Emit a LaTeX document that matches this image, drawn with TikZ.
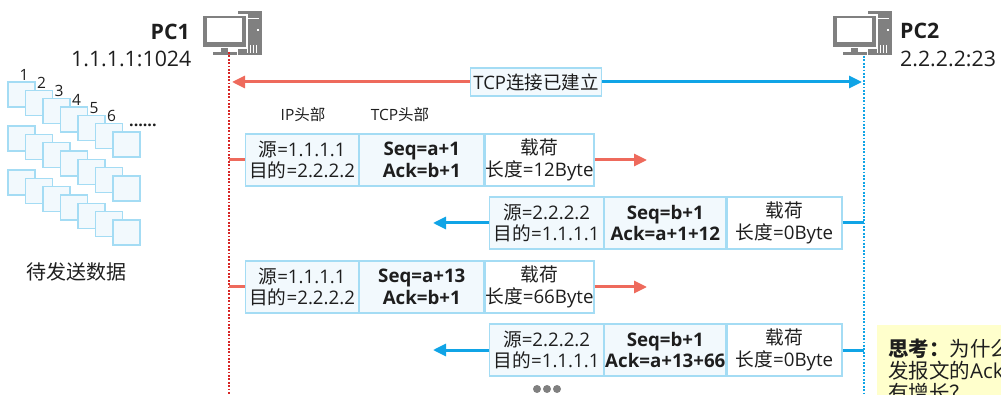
\documentclass[tikz,border=0pt]{standalone}
\usepackage{fontspec}
\setmainfont{Open Sans}
\newfontfamily\cjk{Noto Sans CJK SC}
\usetikzlibrary{arrows.meta}
\newcommand\zh[1]{{\cjk #1}}

\definecolor{tcpred}{RGB}{238,106,92}
\definecolor{linered}{RGB}{214,38,38}
\definecolor{tcpblue}{RGB}{16,164,230}
\definecolor{cellline}{RGB}{164,220,244}
\definecolor{cellfill}{RGB}{242,249,253}
\definecolor{icongray}{RGB}{128,128,128}
\definecolor{notefill}{RGB}{255,255,204}
\definecolor{ink}{RGB}{30,30,30}

\tikzset{
  cell/.style={draw=cellline, line width=1.2pt, minimum height=52pt, inner sep=0pt,
    align=center, font=\fontsize{18.7}{21.5}\selectfont, text=ink, anchor=west},
  hdrcell/.style={cell, fill=cellfill},
  paycell/.style={cell, fill=white},
  tipstyle/.style={-{Triangle[length=13pt,width=12pt]}},
  flowred/.style={draw=tcpred, line width=3pt, tipstyle},
  flowblue/.style={draw=tcpblue, line width=3pt, tipstyle},
  stubred/.style={draw=tcpred, line width=3pt},
  stubblue/.style={draw=tcpblue, line width=3pt},
  lifered/.style={draw=linered, line width=1.6pt, dash pattern=on 1.8pt off 1.6pt},
  lifeblue/.style={draw=tcpblue, line width=1.6pt, dash pattern=on 1.8pt off 1.6pt},
  datasq/.style={draw=cellline, fill=cellfill, line width=1.4pt},
  label/.style={text=ink, inner sep=0pt},
  pics/computer/.style={code={
    % tower
    \fill[icongray] (36,-4) rectangle (60,40);
    \draw[white, line width=0.8pt] (39,3) -- (57,3);
    \fill[white] (54.5,14) rectangle (57,16.5);
    \foreach \i in {45,48,51,54} \draw[white, line width=0.8pt] (\i,30) -- (\i,38);
    % monitor
    \fill[icongray, draw=white, line width=1.5pt] (0,0) rectangle (45,33);
    \fill[white] (5,3) rectangle (40,27.5);
    % stand
    \fill[icongray] (19,33) rectangle (26,37);
    \fill[icongray] (11,37) rectangle (35,40);
  }}
}

\begin{document}
\begin{tikzpicture}[x=1pt, y=-1pt]
\useasboundingbox (0,0) rectangle (1001,395);
\clip (0,0) rectangle (1001,395);

% hosts
\pic at (202,15) {computer};
\pic at (832,15) {computer};
\node[label, anchor=base east, font=\fontsize{21.3}{24}\selectfont\bfseries] (pc1) at (190,40) {PC1};
\node[label, anchor=base east, font=\fontsize{21.3}{24}\selectfont] (pc1addr) at (191.5,66.5) {1.1.1.1:1024};
\node[label, anchor=base west, font=\fontsize{21.3}{24}\selectfont\bfseries] (pc2) at (900,39) {PC2};
\node[label, anchor=base west, font=\fontsize{21.3}{24}\selectfont] (pc2addr) at (900,66.5) {2.2.2.2:23};

% lifelines
\coordinate (pc1top) at (229,52);
\coordinate (pc1bot) at (229,395);
\coordinate (pc2top) at (864,56);
\coordinate (pc2bot) at (864,395);
\draw[lifered] (pc1top) -- (pc1bot);
\draw[lifeblue] (pc2top) -- (pc2bot);

% connection established
\node[draw=cellline, fill=cellfill, line width=1.2pt, minimum width=131pt, minimum height=28pt,
      inner sep=0pt, text=ink, font=\fontsize{18.5}{21}\selectfont] (est) at (536,82) {TCP\zh{连接已建立}};
\draw[flowred, shorten >=3pt] (est.west) -- (pc1top |- est.west);
\draw[flowblue, shorten >=2pt] (est.east) -- (pc2top |- est.east);

% header captions
\node[label, font=\fontsize{15.5}{18}\selectfont] (iphdr) at (303,115) {IP\zh{头部}};
\node[label, font=\fontsize{15.5}{18}\selectfont] (tcphdr) at (400,115) {TCP\zh{头部}};

% segment 1: PC1 -> PC2
\node[hdrcell, minimum width=113pt] (p1ip) at (245,160) {\zh{源}=1.1.1.1\\\zh{目的}=2.2.2.2};
\node[hdrcell, minimum width=124pt] (p1tcp) at (p1ip.east) {\bfseries Seq=a+1\\\bfseries Ack=b+1};
\node[paycell, minimum width=109pt] (p1pay) at (p1tcp.east) {\zh{载荷}\\\zh{长度}=12Byte};
\coordinate (p1end) at (647,160);
\draw[stubred] (pc1top |- p1ip.west) -- (p1ip.west);
\draw[flowred] (p1pay.east) -- (p1end);

% segment 2: PC2 -> PC1
\node[hdrcell, minimum width=114pt] (p2ip) at (489,223) {\zh{源}=2.2.2.2\\\zh{目的}=1.1.1.1};
\node[hdrcell, minimum width=121pt] (p2tcp) at (p2ip.east) {\bfseries Seq=b+1\\\bfseries Ack=a+1+12};
\node[paycell, minimum width=115pt] (p2pay) at (p2tcp.east) {\zh{载荷}\\\zh{长度}=0Byte};
\coordinate (p2end) at (433,223);
\draw[flowblue] (p2ip.west) -- (p2end);
\draw[stubblue] (p2pay.east) -- (pc2top |- p2pay.east);

% segment 3: PC1 -> PC2
\node[hdrcell, minimum width=113pt] (p3ip) at (245,287) {\zh{源}=1.1.1.1\\\zh{目的}=2.2.2.2};
\node[hdrcell, minimum width=124pt] (p3tcp) at (p3ip.east) {\bfseries Seq=a+13\\\bfseries Ack=b+1};
\node[paycell, minimum width=109pt] (p3pay) at (p3tcp.east) {\zh{载荷}\\\zh{长度}=66Byte};
\coordinate (p3end) at (647,287);
\draw[stubred] (pc1top |- p3ip.west) -- (p3ip.west);
\draw[flowred] (p3pay.east) -- (p3end);

% segment 4: PC2 -> PC1
\node[hdrcell, minimum width=114pt] (p4ip) at (489,350) {\zh{源}=2.2.2.2\\\zh{目的}=1.1.1.1};
\node[hdrcell, minimum width=121pt] (p4tcp) at (p4ip.east) {\bfseries Seq=b+1\\\bfseries Ack=a+13+66};
\node[paycell, minimum width=115pt] (p4pay) at (p4tcp.east) {\zh{载荷}\\\zh{长度}=0Byte};
\coordinate (p4end) at (433,350);
\draw[flowblue] (p4ip.west) -- (p4end);
\draw[stubblue] (p4pay.east) -- (pc2top |- p4pay.east);

% continuation dots
\foreach \dx in {537,547,557} \fill[icongray] (\dx,389) circle (4);

% data waiting to be sent
\foreach \gy in {82,126,170}
  \foreach \k in {0,...,6}
    \draw[datasq] ({8+17.5*\k},{\gy+8.33*\k}) rectangle ++(27,25);
\foreach \k in {1,...,6}
  \node[label, font=\fontsize{15.5}{18}\selectfont] (num\k) at ({8+17.5*(\k-1)+16},{82+8.33*(\k-1)-7.5}) {\k};
\node[label, anchor=base west, font=\fontsize{16}{18}\selectfont\bfseries] (more) at (129,127) {......};
\node[label, font=\fontsize{20}{24}\selectfont] (pending) at (76,272) {\zh{待发送数据}};

% question note
\node[fill=notefill, anchor=north west, text width=200pt, minimum height=90pt,
      inner xsep=11pt, inner ysep=2pt, align=left, text=ink,
      font=\fontsize{20.5}{22}\selectfont] (note) at (877,325)
  {\zh{\bfseries 思考：}\zh{为什么}\\\zh{发报文的}Ack\\\zh{有增长？}};
\end{tikzpicture}
\end{document}
